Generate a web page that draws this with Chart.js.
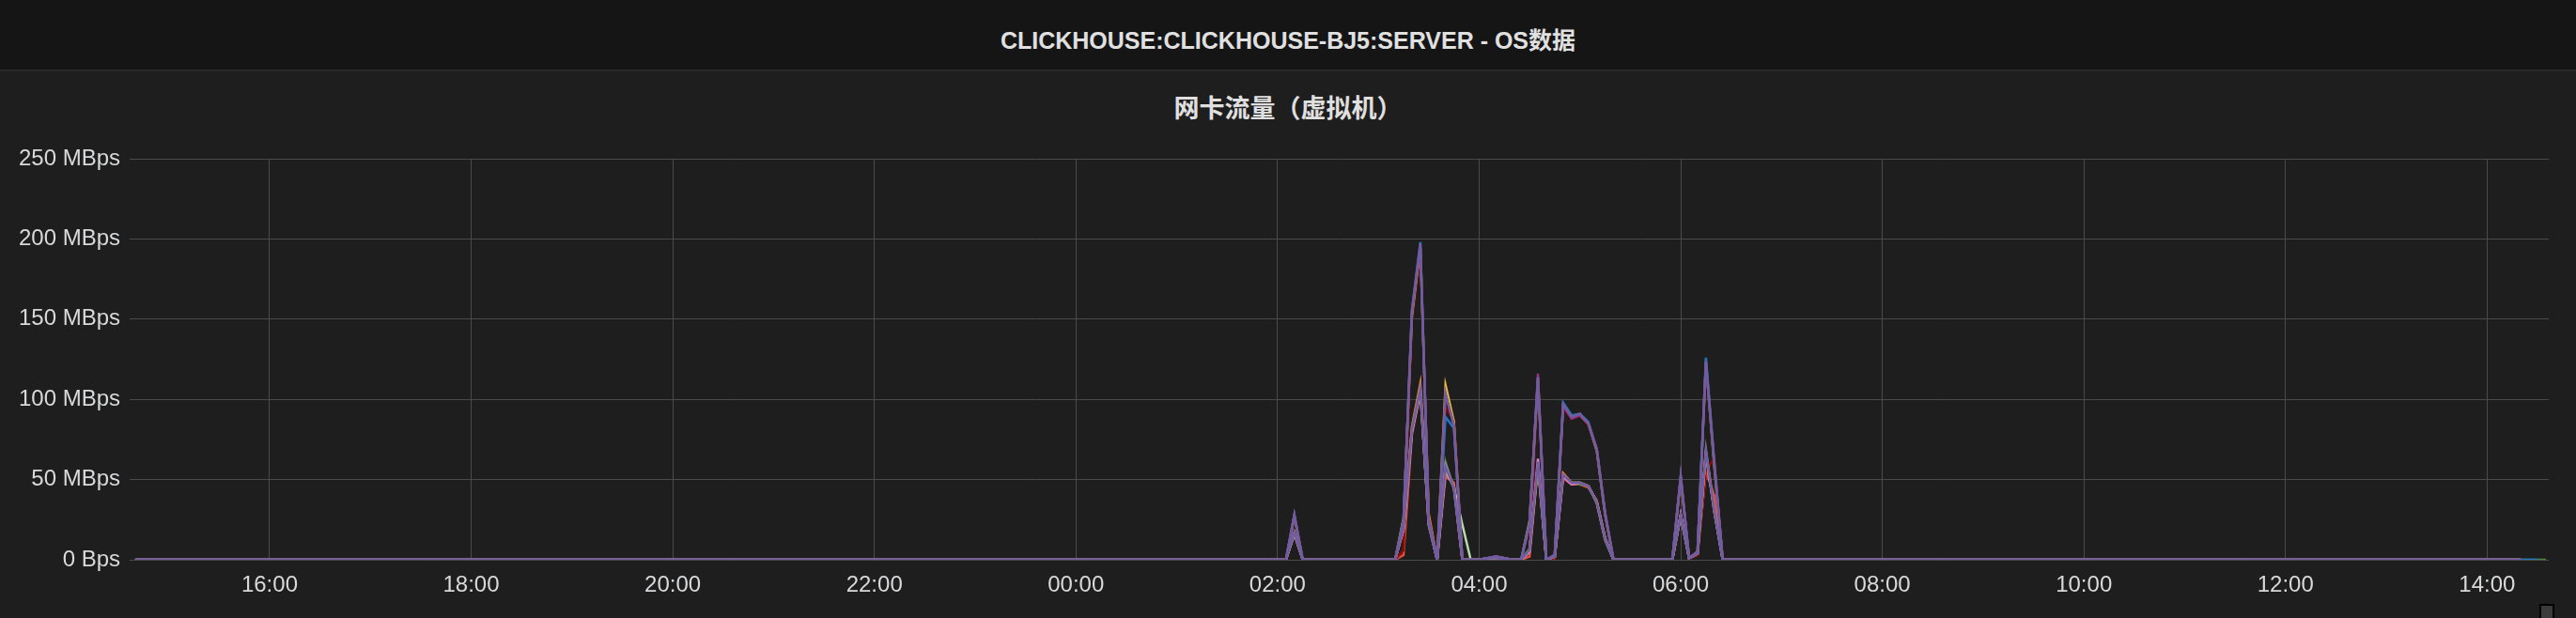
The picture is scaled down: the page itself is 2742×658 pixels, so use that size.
<!DOCTYPE html>
<html>
<head>
<meta charset="utf-8">
<script src="https://cdn.jsdelivr.net/npm/chart.js@4.4.0/dist/chart.umd.min.js"></script>
<style>
    html, body { margin: 0; padding: 0; }
    body { width: 2742px; height: 658px; background: #1f1e1f; position: relative; overflow: hidden; }
    .header {
        position: absolute; left: 0; top: 0; width: 2742px; height: 74px;
        background: #151515; border-bottom: 2px solid #2a2a2a;
        color: #e0e0e0; font: bold 25px "Liberation Sans", "Noto Sans CJK SC", sans-serif;
        text-align: center; line-height: 86px;
    }
    .panel-title {
        position: absolute; left: 0; top: 97px; width: 2742px; text-align: center;
        color: #e0e0e0; font: bold 27px "Noto Sans CJK SC", sans-serif; line-height: 34px;
    }
    #netChart { position: absolute; left: 0; top: 0; }
    .resize { position: absolute; left: 2703px; top: 643px; width: 12px; height: 14px; background: #3b3b3b; border: 2px solid #000; }
</style>
</head>
<body>
<div class="header">CLICKHOUSE:CLICKHOUSE-BJ5:SERVER - OS数据</div>
<div class="panel-title">网卡流量（虚拟机）</div>
<canvas id="netChart" width="2742" height="658"></canvas>
<div class="resize"></div>
<script>
// sample times, minutes from day-1 00:00 (16:00 = 960, next-day 14:00 = 2280)
const times = [880, 1565, 1570, 1575, 1630, 1635, 1640, 1645, 1650, 1655, 1660, 1665, 1670, 1675, 1680,
    1685, 1690, 1695, 1700, 1705, 1710, 1715, 1720, 1725, 1730, 1735, 1740, 1745, 1750, 1755, 1760,
    1795, 1800, 1805, 1810, 1815, 1820, 1825, 2300, 2310, 2315];

// x axis tick positions and labels
const tickTimes = [960, 1080, 1200, 1320, 1440, 1560, 1680, 1800, 1920, 2040, 2160, 2280];
const tickLabels = ['16:00', '18:00', '20:00', '22:00', '00:00', '02:00', '04:00', '06:00', '08:00', '10:00', '12:00', '14:00'];
const yTicks = [0, 50, 100, 150, 200, 250];

// MBps per series
const rxPurple = [0, 0, 28, 0, 0, 24, 155, 197, 25, 0, 104, 83, 0, 0, 0, 1, 2, 1, 0, 0, 22, 114, 0, 3, 97, 89, 91, 85, 69, 29, 0, 0, 52, 1, 5, 124, 60, 0, 0, null, null];
const txPurple = [0, 0, 17, 0, 0, 20, 81, 106, 22, 0, 58, 45, 0, 0, 0, 1, 1, 0, 0, 0, 6, 61, 0, 2, 53, 48, 48, 46, 36, 13, 0, 0, 28, 1, 4, 68, 30, 0, 0, null, null];
const rxMagenta = [0, 0, 28, 0, 0, 23, 154, 196, 26, 0, 103, 84, 0, 0, 0, 1, 2, 1, 0, 0, 21, 116, 0, 3, 96, 88, 90, 85, 69, 29, 0, 0, 52, 1, 5, 122, 60, 0, 0, null, null];
const txMagenta = [0, 0, 17, 0, 0, 19, 80, 106, 22, 0, 59, 45, 0, 0, 0, 1, 1, 0, 0, 0, 5, 63, 0, 2, 52, 47, 48, 46, 36, 13, 0, 0, 28, 1, 4, 67, 30, 0, 0, null, null];
const rxBlue = [0, 0, 28, 0, 0, 25, 156, 198, 24, 0, 89, 82, 0, 0, 0, 1, 2, 1, 0, 0, 23, 112, 0, 3, 98, 90, 91, 86, 69, 29, 0, 0, 52, 1, 5, 126, 61, 0, 0, 0, null];
const txGreen = [0, 0, 17, 0, 0, 22, 82, 107, 21, 0, 61, 44, 0, 0, 0, 1, 1, 0, 0, 0, 7, 60, 0, 2, 52, 48, 47, 46, 35, 12, 0, 0, 27, 1, 4, 69, 31, 0, 0, 0, 0];
const rxYellow = [0, 0, 27, 0, 0, 26, 152, 195, 28, 0, 109, 86, 0, 0, 0, 1, 2, 1, 0, 0, 24, 113, 0, 3, 96, 90, 90, 85, 68, 28, 0, 0, 51, 1, 5, 123, 58, 0, 0, null, null];
const txOrange = [0, 0, 17, 0, 0, 21, 83, 110, 22, 0, 57, 46, 0, 0, 0, 1, 1, 0, 0, 0, 6, 60, 0, 2, 54, 48, 48, 46, 36, 13, 0, 0, 28, 1, 4, 67, 31, 0, 0, null, null];
const txPaleGreen = [0, 0, 16, 0, 0, 19, 80, 105, 23, 0, 56, 45, 22, 0, 0, 1, 1, 0, 0, 0, 5, 59, 0, 2, 53, 48, 48, 46, 36, 13, 0, 0, 28, 1, 4, 66, 30, 0, 0, null, null];
const rxRed = [0, 0, 27, 0, 0, 6, 150, 192, 30, 0, 95, 87, 0, 0, 0, 0, 1, 0, 0, 0, 5, 110, 0, 1, 95, 88, 90, 84, 70, 30, 0, 0, 50, 1, 3, 56, 63, 0, 0, null, null];
const txRed = [0, 0, 16, 0, 0, 3, 78, 104, 24, 0, 52, 48, 0, 0, 0, 0, 1, 0, 0, 0, 2, 58, 0, 1, 51, 47, 47, 45, 37, 14, 0, 0, 27, 1, 3, 55, 40, 0, 0, null, null];

// first entry is drawn on top
const seriesList = [
    { label: 'bj5-06 rx', values: rxPurple, color: '#705DA0' },
    { label: 'bj5-06 tx', values: txPurple, color: '#705DA0' },
    { label: 'bj5-05 rx', values: rxMagenta, color: '#962D82' },
    { label: 'bj5-05 tx', values: txMagenta, color: '#D683CE' },
    { label: 'bj5-04 rx', values: rxBlue, color: '#1F78C1' },
    { label: 'bj5-04 tx', values: txGreen, color: '#508642' },
    { label: 'bj5-03 rx', values: rxYellow, color: '#EAB839' },
    { label: 'bj5-03 tx', values: txOrange, color: '#EF843C' },
    { label: 'bj5-02 tx', values: txPaleGreen, color: '#B7DBAB' },
    { label: 'bj5-01 rx', values: rxRed, color: '#890F02' },
    { label: 'bj5-01 tx', values: txRed, color: '#E24D42' }
];

const datasets = seriesList.map(s => ({
    label: s.label,
    data: times.map((t, i) => ({ x: t, y: s.values[i] })),
    borderColor: s.color,
    backgroundColor: s.color,
    borderWidth: 2.5,
    pointRadius: 0,
    tension: 0,
    fill: false
}));

const tickFont = { family: '"Liberation Sans", Arial, sans-serif', size: 24 };

const ctx = document.getElementById('netChart').getContext('2d');
const netChart = new Chart(ctx, {
    type: 'line',
    data: { datasets: datasets },
    options: {
        responsive: false,
        animation: false,
        layout: { padding: { top: 169, left: 0, right: 29, bottom: 0 } },
        plugins: {
            legend: { display: false },
            tooltip: { enabled: false }
        },
        scales: {
            x: {
                type: 'linear',
                min: 876.7,
                max: 2316.7,
                afterBuildTicks: scale => { scale.ticks = tickTimes.map(v => ({ value: v })); },
                afterFit: scale => { scale.height = 62; },
                grid: { color: '#4a4a4a', lineWidth: 1, drawTicks: false },
                border: { display: false },
                ticks: {
                    autoSkip: false,
                    maxRotation: 0,
                    padding: 13,
                    color: '#d8d9da',
                    font: tickFont,
                    callback: (v, i) => tickLabels[i]
                }
            },
            y: {
                min: 0,
                max: 250,
                afterBuildTicks: scale => { scale.ticks = yTicks.map(v => ({ value: v })); },
                afterFit: scale => { scale.width = 138; },
                grid: { color: '#4a4a4a', lineWidth: 1, drawTicks: false },
                border: { display: false },
                ticks: {
                    padding: 10,
                    color: '#d8d9da',
                    font: tickFont,
                    callback: v => v === 0 ? '0 Bps' : v + ' MBps'
                }
            }
        }
    }
});
</script>
</body>
</html>
